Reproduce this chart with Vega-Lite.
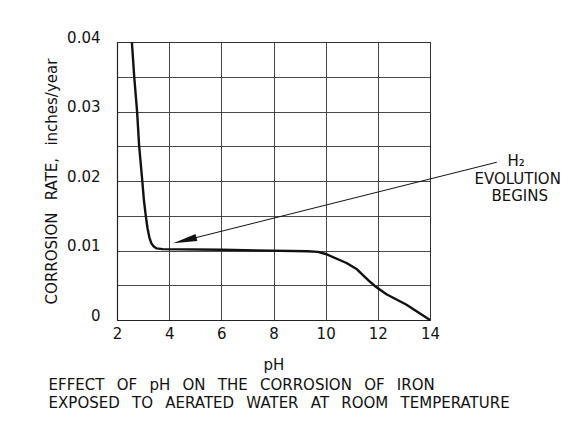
{
  "$schema": "https://vega.github.io/schema/vega-lite/v6.json",
  "autosize": "none",
  "width": 313,
  "height": 278,
  "padding": {"left": 117, "top": 42, "right": 147, "bottom": 101},
  "background": "white",
  "config": {
    "font": "DejaVu Sans",
    "view": {"stroke": "#222", "strokeWidth": 1},
    "axis": {"labelFont": "DejaVu Sans", "titleFont": "DejaVu Sans", "labelColor": "#111", "titleColor": "#111", "titleFontWeight": "normal"}
  },
  "title": {
    "text": ["EFFECT\u2002 OF\u2002 pH\u2002 ON\u2002 THE\u2002 CORROSION\u2002 OF\u2002 IRON", "EXPOSED\u2002 TO\u2002 AERATED\u2002 WATER\u2002 AT\u2002 ROOM\u2002 TEMPERATURE"],
    "orient": "bottom",
    "anchor": "start",
    "frame": "bounds",
    "font": "DejaVu Sans",
    "fontSize": 15,
    "fontWeight": "normal",
    "color": "#111",
    "lineHeight": 18,
    "offset": 6,
    "dx": 4
  },
  "datasets": {
    "curve": [
      {"pH": 2.57, "rate": 0.040},
      {"pH": 2.66, "rate": 0.035},
      {"pH": 2.77, "rate": 0.030},
      {"pH": 2.85, "rate": 0.025},
      {"pH": 2.97, "rate": 0.020},
      {"pH": 3.03, "rate": 0.0173},
      {"pH": 3.1, "rate": 0.0151},
      {"pH": 3.17, "rate": 0.0132},
      {"pH": 3.24, "rate": 0.0119},
      {"pH": 3.31, "rate": 0.0111},
      {"pH": 3.4, "rate": 0.0106},
      {"pH": 3.52, "rate": 0.0103},
      {"pH": 3.75, "rate": 0.0102},
      {"pH": 6.0, "rate": 0.0101},
      {"pH": 9.3, "rate": 0.0099},
      {"pH": 9.7, "rate": 0.0098},
      {"pH": 10.0, "rate": 0.0095},
      {"pH": 10.8, "rate": 0.0082},
      {"pH": 11.2, "rate": 0.0073},
      {"pH": 11.45, "rate": 0.0064},
      {"pH": 11.7, "rate": 0.0055},
      {"pH": 11.95, "rate": 0.0047},
      {"pH": 12.33, "rate": 0.0037},
      {"pH": 13.1, "rate": 0.0022},
      {"pH": 14.0, "rate": 0.0}
    ],
    "arrow": [
      {"pH": 16.56, "rate": 0.0227},
      {"pH": 4.6, "rate": 0.01145}
    ],
    "head": [
      {"pH": 4.6, "rate": 0.01145}
    ],
    "labels": [
      {"pH": 17.3, "rate": 0.0229, "text": "H₂"},
      {"pH": 17.36, "rate": 0.0203, "text": "EVOLUTION"},
      {"pH": 17.44, "rate": 0.0179, "text": "BEGINS"}
    ]
  },
  "layer": [
    {
      "data": {"name": "curve"},
      "mark": {"type": "line", "color": "#111", "strokeWidth": 2.4, "interpolate": "linear", "strokeJoin": "round", "clip": false},
      "encoding": {
        "x": {
          "field": "pH", "type": "quantitative",
          "scale": {"domain": [2, 14], "nice": false, "zero": false},
          "axis": {
            "title": "pH", "values": [2, 4, 6, 8, 10, 12, 14],
            "grid": true, "gridColor": "#333", "gridWidth": 0.9, "gridOpacity": 1,
            "ticks": false, "domainColor": "#222", "domainWidth": 1.2,
            "labelFontSize": 15, "labelPadding": 6, "labelFlush": false,
            "titleFontSize": 15, "titlePadding": 16
          }
        },
        "y": {
          "field": "rate", "type": "quantitative",
          "scale": {"domain": [0, 0.04], "nice": false},
          "axis": {
            "title": "CORROSION\u2002 RATE,\u2002 inches/year",
            "tickCount": 8,
            "labelExpr": "round(datum.value*200) % 2 == 0 ? format(datum.value, '.2~f') : ''",
            "labelOverlap": false, "labelFlush": false, "labelBaseline": "alphabetic",
            "grid": true, "gridColor": "#333", "gridWidth": 0.9, "gridOpacity": 1,
            "ticks": false, "domainColor": "#222", "domainWidth": 1.2,
            "labelFontSize": 15, "labelPadding": 17,
            "titleFontSize": 15, "titlePadding": 7
          }
        }
      }
    },
    {
      "data": {"name": "arrow"},
      "mark": {"type": "line", "color": "#111", "strokeWidth": 1, "clip": false},
      "encoding": {
        "x": {"field": "pH", "type": "quantitative"},
        "y": {"field": "rate", "type": "quantitative"}
      }
    },
    {
      "data": {"name": "head"},
      "mark": {"type": "point", "shape": "M-1,0 L1,-0.3 L1,0.3 Z", "filled": true, "color": "#111", "opacity": 1, "size": 576, "angle": 346, "clip": false},
      "encoding": {
        "x": {"field": "pH", "type": "quantitative"},
        "y": {"field": "rate", "type": "quantitative"}
      }
    },
    {
      "data": {"name": "labels"},
      "mark": {"type": "text", "font": "DejaVu Sans", "fontSize": 15, "color": "#111", "align": "center", "baseline": "middle", "clip": false},
      "encoding": {
        "x": {"field": "pH", "type": "quantitative"},
        "y": {"field": "rate", "type": "quantitative"},
        "text": {"field": "text"}
      }
    }
  ]
}
